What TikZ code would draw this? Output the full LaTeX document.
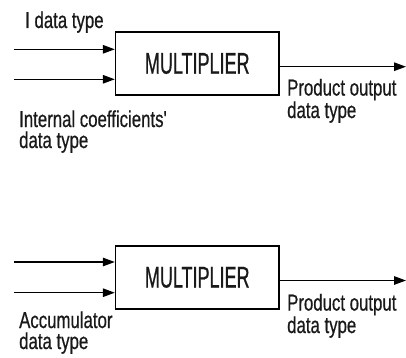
\documentclass[tikz,border=0pt]{standalone}
\usepackage{fontspec}
\usetikzlibrary{arrows.meta}
\newfontfamily\labfont[FakeStretch=0.73,FakeBold=0.6]{Liberation Sans}
\newfontfamily\boxfont[FakeStretch=0.6,FakeBold=0.6]{Liberation Sans}
\tikzset{
  mult/.style={draw=black, line width=1.4pt, minimum width=163.5pt, minimum height=63pt, inner sep=0pt,
    font=\boxfont\fontsize{30}{30}\selectfont, text=black!90},
  lab/.style={inner sep=0pt, anchor=base west, align=left, text=black!90,
    font=\labfont\fontsize{23}{21}\selectfont},
  sig/.style={line width=1.3pt, -{Triangle[length=12pt, width=8.5pt]}}
}
\begin{document}
\begin{tikzpicture}[x=1pt, y=1pt]
\useasboundingbox (0,0) rectangle (406,357);
% top block
\node[mult] (m1) at (197.25,293.5) {MULTIPLIER};
\coordinate (a1) at (14,307.7);
\coordinate (b1) at (14,277.7);
\coordinate (o1) at (406,290.3);
\draw[sig] (a1) -- (a1 -| m1.west);
\draw[sig] (b1) -- (b1 -| m1.west);
\draw[sig] (o1 -| m1.east) -- (o1);
\node[lab] (l1) at (25,329) {I data type};
\node[lab] (l2) at (19,209) {Internal coefficients'\\data type};
\node[lab] (l3) at (287,239) {Product output\\data type};
% bottom block
\node[mult] (m2) at (197.25,79.65) {MULTIPLIER};
\coordinate (a2) at (14,95);
\coordinate (b2) at (14,64.3);
\coordinate (o2) at (406,76.5);
\draw[sig] (a2) -- (a2 -| m2.west);
\draw[sig] (b2) -- (b2 -| m2.west);
\draw[sig] (o2 -| m2.east) -- (o2);
\node[lab] (l4) at (19,8) {Accumulator\\data type};
\node[lab] (l5) at (287,24) {Product output\\data type};
\end{tikzpicture}
\end{document}
